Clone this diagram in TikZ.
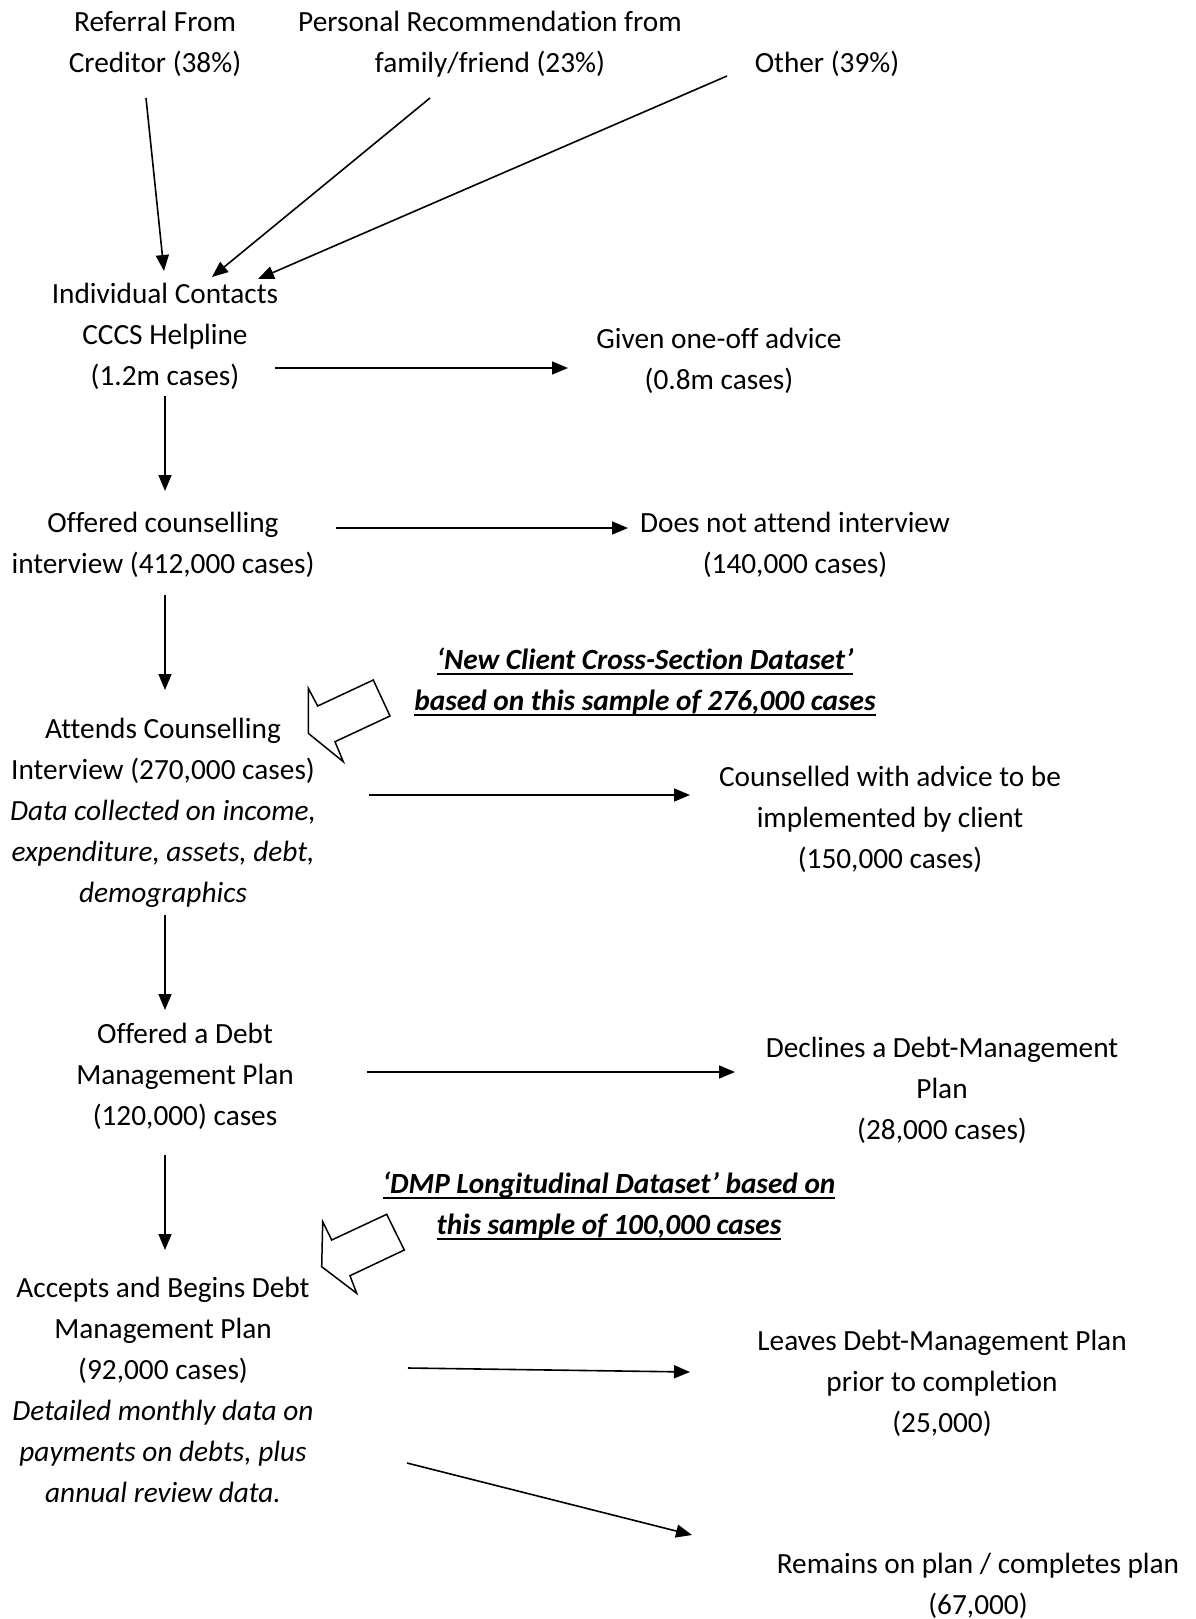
\documentclass[tikz,border=0pt]{standalone}
\usepackage{fontspec}
\setmainfont{Carlito}[Ligatures=CommonOff]
\usetikzlibrary{arrows.meta}
\newsavebox\myulbox
\newcommand\myul[1]{\sbox\myulbox{#1}\rlap{\rule[-6pt]{\wd\myulbox}{2pt}}\usebox\myulbox}
\begin{document}
\begin{tikzpicture}[x=1pt,y=-1pt,
  font=\fontsize{29.3}{41}\selectfont,
  txt/.style={align=center, anchor=base, inner sep=0pt},
  ds/.style={txt, font=\fontsize{29.3}{41}\selectfont\bfseries\itshape},
  arr/.style={line width=1.6pt, -{Triangle[length=16pt,width=13pt]}},
  hollow/.style={line width=1.5pt, line join=miter, fill=white}]
\useasboundingbox (0,0) rectangle (1196,1619);

% text nodes (anchor = baseline of last line)
\node[txt] (ref) at (155,73) {Referral From\\Creditor (38\%)};
\node[txt] (pers) at (490,73) {Personal Recommendation from\\family/friend (23\%)};
\node[txt] (oth) at (827,73) {Other (39\%)};
\node[txt] (ind) at (165,385) {Individual Contacts\\CCCS Helpline\\(1.2m cases)};
\node[txt] (oneoff) at (719,389) {Given one-off advice\\(0.8m cases)};
\node[txt] (off) at (163,573) {Offered counselling\\interview (412,000 cases)};
\node[txt] (dna) at (795,573) {Does not attend interview\\(140,000 cases)};
\node[ds] (ncd) at (645,710) {\myul{‘New Client Cross-Section Dataset’}\\\myul{based on this sample of 276,000 cases}};
\node[txt] (att) at (163,902) {Attends Counselling\\Interview (270,000 cases)\\\textit{Data collected on income,}\\\textit{expenditure, assets, debt,}\\\textit{demographics}};
\node[txt] (couns) at (890,868) {Counselled with advice to be\\implemented by client\\(150,000 cases)};
\node[txt] (offdmp) at (185,1125) {Offered a Debt\\Management Plan\\(120,000) cases};
\node[txt] (decl) at (942,1139) {Declines a Debt-Management\\Plan\\(28,000 cases)};
\node[ds] (dmpds) at (609,1234) {\myul{‘DMP Longitudinal Dataset’ based on}\\\myul{this sample of 100,000 cases}};
\node[txt] (acc) at (163,1502) {Accepts and Begins Debt\\Management Plan\\(92,000 cases)\\\textit{Detailed monthly data on}\\\textit{payments on debts, plus}\\\textit{annual review data.}};
\node[txt] (leaves) at (942,1432) {Leaves Debt-Management Plan\\prior to completion\\(25,000)};
\node[txt] (remains) at (978,1614) {Remains on plan / completes plan\\(67,000)};

% connector end points
\coordinate (a1s) at (146,98);  \coordinate (a1e) at (164,271);
\coordinate (a2s) at (430,98);  \coordinate (a2e) at (212,277);
\coordinate (a3s) at (727,76);  \coordinate (a3e) at (258,279);
\coordinate (a4s) at (275,368); \coordinate (a4e) at (568,368);
\coordinate (a5s) at (165,396); \coordinate (a5e) at (165,491);
\coordinate (a6s) at (336,528); \coordinate (a6e) at (628,528);
\coordinate (a7s) at (165,595); \coordinate (a7e) at (165,690);
\coordinate (a8s) at (369,795); \coordinate (a8e) at (690,795);
\coordinate (a9s) at (165,915); \coordinate (a9e) at (165,1010);
\coordinate (a10s) at (367,1072); \coordinate (a10e) at (735,1072);
\coordinate (a11s) at (165,1155); \coordinate (a11e) at (165,1250);
\coordinate (a12s) at (408,1368); \coordinate (a12e) at (690,1372);
\coordinate (a13s) at (407,1463); \coordinate (a13e) at (692,1535);

\draw[arr] (a1s) -- (a1e);
\draw[arr] (a2s) -- (a2e);
\draw[arr] (a3s) -- (a3e);
\draw[arr] (a4s) -- (a4e);
\draw[arr] (a5s) -- (a5e);
\draw[arr] (a6s) -- (a6e);
\draw[arr] (a7s) -- (a7e);
\draw[arr] (a8s) -- (a8e);
\draw[arr] (a9s) -- (a9e);
\draw[arr] (a10s) -- (a10e);
\draw[arr] (a11s) -- (a11e);
\draw[arr] (a12s) -- (a12e);
\draw[arr] (a13s) -- (a13e);

% hollow block arrows
\draw[hollow] (308.3,688.3) -- (317.7,706) -- (373.3,680) -- (390,716) -- (335,741.7) -- (343.3,761.7) -- (308.3,733.3) -- cycle;
\draw[hollow] (322.7,1221.7) -- (331.7,1240) -- (386.7,1214.3) -- (404.3,1250) -- (350,1275.7) -- (356.7,1293.3) -- (321.7,1266.7) -- cycle;
\end{tikzpicture}
\end{document}
